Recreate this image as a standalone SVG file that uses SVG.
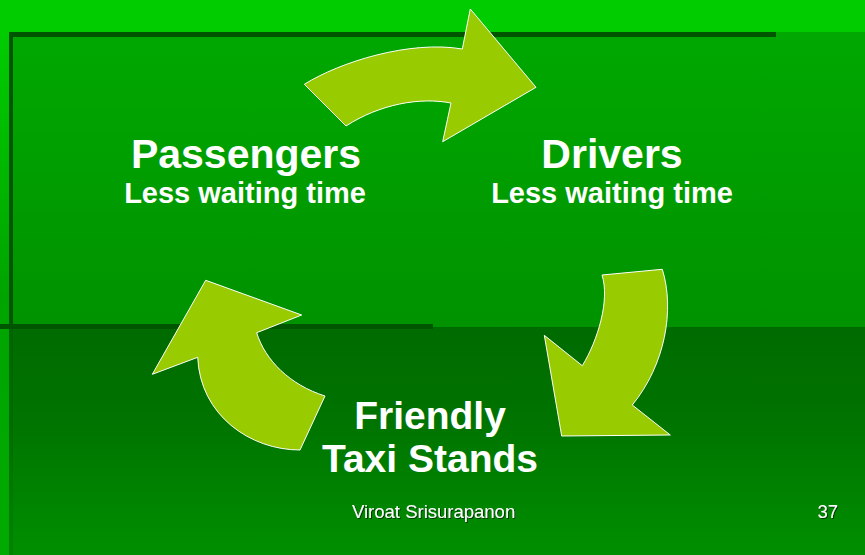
<svg xmlns="http://www.w3.org/2000/svg" width="865" height="555" viewBox="0 0 865 555">
  <defs>
    <linearGradient id="upperBg" x1="0" y1="0" x2="0" y2="1">
      <stop offset="0" stop-color="#00a800"/>
      <stop offset="1" stop-color="#009200"/>
    </linearGradient>
    <linearGradient id="lowerBg" x1="0" y1="0" x2="0" y2="1">
      <stop offset="0" stop-color="#006b00"/>
      <stop offset="0.4" stop-color="#007300"/>
      <stop offset="1" stop-color="#008f00"/>
    </linearGradient>
    <linearGradient id="edgeBg" x1="0" y1="0" x2="0" y2="1">
      <stop offset="0" stop-color="#00cc00"/>
      <stop offset="0.5" stop-color="#00a400"/>
      <stop offset="1" stop-color="#00aa00"/>
    </linearGradient>
    <filter id="footShadow" x="-10%" y="-30%" width="120%" height="160%">
      <feDropShadow dx="1" dy="1" stdDeviation="0.4" flood-color="#003000" flood-opacity="0.9"/>
    </filter>
  </defs>
  <style>
    .arrow { fill: #99cc00; stroke: #ffffff; stroke-width: 1; stroke-linejoin: miter; }
    .title { font-family: "Liberation Sans", Arial, sans-serif; font-weight: bold; fill: #ffffff; text-anchor: middle; }
    .foot { font-family: "Liberation Sans", Arial, sans-serif; font-size: 18.5px; fill: #ffffff; filter: url(#footShadow); }
    .rule { fill: #005500; }
  </style>

  <!-- slide background -->
  <g id="background">
    <rect x="0" y="0" width="865" height="555" fill="#00cc00"/>
    <rect x="0" y="32" width="9" height="523" fill="url(#edgeBg)"/>
    <rect x="9" y="32" width="856" height="295" fill="url(#upperBg)"/>
    <rect x="9" y="327" width="856" height="228" fill="url(#lowerBg)"/>
    <rect class="rule" x="9" y="32" width="767" height="5"/>
    <rect class="rule" x="9" y="32" width="4" height="297" fill="#006000"/>
    <rect class="rule" x="0" y="324" width="433" height="5" fill="#005a00"/>
    <rect x="9" y="329" width="4" height="226" fill="#004000" opacity="0.15"/>
  </g>

  <!-- cycle arrows -->
  <g id="connectors">
    <path id="arrow-top" class="arrow" d="M304.3,84.3 C340,62 410,40 462.3,49 L470.3,9 L536,87.3 L442.7,141.7 L451,103 C420,97 380,104 346,126 Z"/>
    <path id="arrow-right" class="arrow" d="M602,275 L662.3,269.3 C675,310 665,365 632.3,405 L670.3,435 L561.7,436 L544.3,335.3 L582.3,365.7 C598,340 610,300 602,275 Z"/>
    <path id="arrow-left" class="arrow" d="M205.7,280.3 L301.7,315 L256.7,332.7 C265,360 290,385 325,396 L300,450 C250,450 200,415 197.7,357.3 L152.3,374.3 Z"/>
  </g>

  <g id="passengers">
    <text class="title" x="246" y="168" font-size="41">Passengers</text>
    <text class="title" x="245" y="203" font-size="29">Less waiting time</text>
  </g>

  <g id="drivers">
    <text class="title" x="612" y="168" font-size="41">Drivers</text>
    <text class="title" x="612" y="203" font-size="29">Less waiting time</text>
  </g>

  <g id="taxi-stands">
    <text class="title" x="430" y="429" font-size="39">Friendly</text>
    <text class="title" x="430" y="472" font-size="39">Taxi Stands</text>
  </g>

  <g id="footer">
    <text class="foot" x="352" y="518">Viroat Srisurapanon</text>
    <text class="foot" x="838" y="518" text-anchor="end">37</text>
  </g>
</svg>
